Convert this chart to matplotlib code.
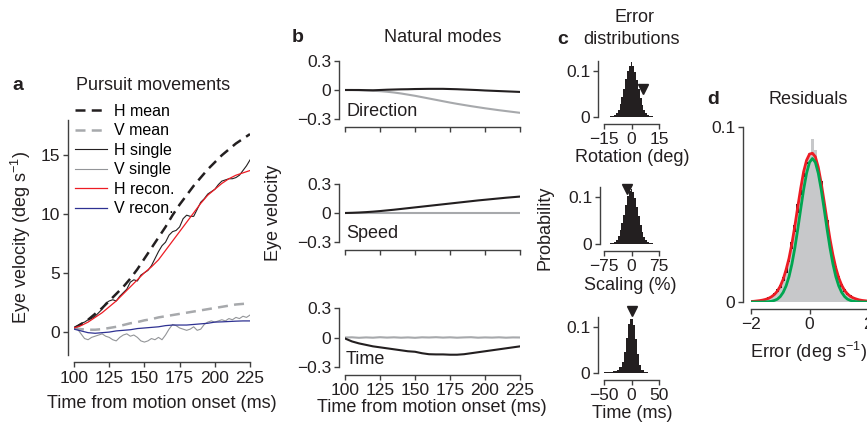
import matplotlib
matplotlib.use("Agg")
import matplotlib.pyplot as plt
import numpy as np

plt.rcParams["font.family"] = ["Liberation Sans", "DejaVu Sans"]
plt.rcParams["mathtext.fontset"] = "custom"
plt.rcParams["mathtext.rm"] = "Liberation Sans"
plt.rcParams["mathtext.it"] = "Liberation Sans:italic"

# ---- data -------------------------------------------------------------
# panel a: pursuit movements (deg/s), time in ms
t_coarse = np.arange(100, 226, 5)
t_fine = np.arange(100, 225.1, 2.5)

h_mean = [0.3, 0.6, 1.0, 1.5, 2.0, 2.6, 3.2, 3.8, 4.5, 5.3, 6.2, 7.1, 8.0,
          8.9, 9.9, 10.8, 11.6, 12.4, 13.1, 13.8, 14.4, 15.0, 15.5, 16.0, 16.4, 16.8]
v_mean = [0.3, 0.2, 0.15, 0.15, 0.2, 0.3, 0.4, 0.55, 0.7, 0.8, 0.95, 1.05, 1.2,
          1.3, 1.4, 1.5, 1.6, 1.7, 1.8, 1.9, 2.0, 2.1, 2.2, 2.3, 2.35, 2.4]
h_recon = [0.3, 0.5, 0.8, 1.2, 1.6, 2.1, 2.6, 3.2, 3.8, 4.4, 5.0, 5.5, 6.1,
           6.9, 7.7, 8.5, 9.3, 10.1, 10.9, 11.6, 12.1, 12.6, 13.0, 13.3, 13.5, 13.7]
v_recon = [0.2, 0.05, -0.1, -0.15, -0.1, -0.05, 0.05, 0.1, 0.15, 0.25, 0.3, 0.35, 0.4,
           0.5, 0.55, 0.55, 0.55, 0.6, 0.65, 0.7, 0.8, 0.82, 0.85, 0.88, 0.9, 0.9]
h_single = [0.3, 0.5, 0.7, 0.8, 1.0, 1.1, 1.3, 1.6, 1.9, 2.4, 2.6, 2.7, 2.6,
            3.0, 3.3, 3.6, 4.2, 4.4, 4.3, 4.8, 5.0, 5.2, 5.6, 6.2, 6.8, 7.3,
            7.6, 8.2, 8.5, 8.6, 8.9, 9.6, 9.9, 9.8, 9.8, 10.4, 11.0, 11.3, 11.7,
            11.9, 12.1, 12.5, 12.8, 12.9, 13.0, 13.0, 13.1, 13.3, 13.7, 14.1, 14.6]
v_single = [0.3, 0.2, -0.2, -0.6, -0.7, -0.5, -0.4, -0.3, -0.2, -0.4, -0.5, -0.7, -0.8,
            -0.5, -0.3, -0.2, -0.4, -0.3, -0.5, -0.8, -0.9, -0.8, -0.6, -0.7, -0.5, -0.7,
            -0.3, 0.2, 0.6, 0.5, 0.3, 0.2, 0.1, 0.2, 0.4, 0.1, 0.2, 0.6, 0.8,
            0.9, 0.8, 0.9, 1.0, 0.9, 1.1, 1.0, 1.2, 1.1, 1.3, 1.2, 1.4]

# panel b: natural modes (black = horizontal, gray = vertical)
dir_h = [0.0, 0.0, 0.0, -0.002, -0.003, 0.0, 0.003, 0.005, 0.007, 0.008, 0.01, 0.011, 0.012,
         0.012, 0.012, 0.01, 0.008, 0.005, 0.002, -0.001, -0.005, -0.008, -0.011, -0.014, -0.017, -0.02]
dir_v = [0.0, 0.0, -0.002, -0.004, -0.008, -0.012, -0.018, -0.026, -0.036, -0.048, -0.06, -0.074, -0.088,
         -0.102, -0.116, -0.13, -0.143, -0.155, -0.167, -0.178, -0.189, -0.199, -0.209, -0.218, -0.227, -0.236]
spd_h = [0.0, 0.002, 0.005, 0.009, 0.014, 0.02, 0.027, 0.034, 0.042, 0.05, 0.058, 0.066, 0.074,
         0.082, 0.09, 0.098, 0.106, 0.114, 0.122, 0.13, 0.137, 0.144, 0.151, 0.158, 0.164, 0.17]
spd_v = [0.0] * 26
tim_h = [-0.01, -0.04, -0.06, -0.075, -0.09, -0.1, -0.11, -0.12, -0.13, -0.14, -0.145, -0.16, -0.17,
         -0.172, -0.172, -0.175, -0.175, -0.17, -0.16, -0.15, -0.14, -0.13, -0.12, -0.11, -0.1, -0.09]
tim_v = [0.0, 0.002, -0.003, 0.001, -0.002, 0.003, -0.001, 0.002, -0.002, 0.001, -0.003, 0.002, 0.0,
         0.003, -0.001, 0.002, -0.002, 0.001, 0.003, -0.002, 0.001, -0.001, 0.002, -0.002, 0.001, 0.0]

# panel c: error distributions
rot_bins = np.arange(-14, 15, 1)
rot_prob = [0.0004, 0.0006, 0.0009, 0.0013, 0.0022, 0.0045, 0.0085, 0.016, 0.028, 0.044, 0.062, 0.083,
            0.101, 0.112, 0.119, 0.111, 0.099, 0.081, 0.060, 0.042, 0.026, 0.016, 0.0088, 0.0045,
            0.0022, 0.0013, 0.0008, 0.0006, 0.0004]
rot_marker = (6.5, 0.061)
scl_bins = np.arange(-70, 71, 5)
scl_prob = [0.0004, 0.0006, 0.0008, 0.0012, 0.002, 0.0042, 0.0088, 0.017, 0.029, 0.045, 0.063, 0.084,
            0.102, 0.113, 0.118, 0.112, 0.098, 0.080, 0.059, 0.041, 0.025, 0.015, 0.0085, 0.0043,
            0.0021, 0.0012, 0.0008, 0.0006, 0.0004]
scl_marker = (-13.6, 0.117)
tim_bins = np.arange(-48, 49, 4)
tim_prob = [0.0015, 0.002, 0.0025, 0.003, 0.004, 0.005, 0.007, 0.012, 0.024, 0.045, 0.077, 0.106,
            0.117, 0.104, 0.074, 0.041, 0.018, 0.007, 0.003, 0.0015, 0.001, 0.0008, 0.0006, 0.0005, 0.0004]
tim_marker = (1.8, 0.135)

# panel d: residuals
err_bins = np.round(np.arange(-2.0, 2.01, 0.1), 1)
err_black = [0.0004, 0.0005, 0.0007, 0.0010, 0.0014, 0.0020, 0.0026, 0.0036, 0.0050, 0.0072, 0.0100,
             0.0142, 0.0195, 0.0262, 0.0345, 0.0440, 0.0560, 0.0640, 0.0740, 0.0800, 0.0840,
             0.0835, 0.0820, 0.0760, 0.0690, 0.0560, 0.0470, 0.0370, 0.0280, 0.0205, 0.0150,
             0.0105, 0.0074, 0.0052, 0.0038, 0.0028, 0.0020, 0.0015, 0.0011, 0.0008, 0.0006]
err_gray = [0.0002, 0.0003, 0.0004, 0.0006, 0.0009, 0.0013, 0.0018, 0.0026, 0.0038, 0.0056, 0.0080,
            0.0118, 0.0165, 0.0228, 0.0305, 0.0400, 0.0510, 0.0610, 0.0715, 0.0790, 0.0850,
            0.0930, 0.0870, 0.0760, 0.0660, 0.0540, 0.0440, 0.0340, 0.0250, 0.0180, 0.0128,
            0.0088, 0.0060, 0.0042, 0.0030, 0.0021, 0.0015, 0.0011, 0.0008, 0.0006, 0.0004]
err_red = [0.0003, 0.0004, 0.0006, 0.0008, 0.0011, 0.0015, 0.0021, 0.0030, 0.0043, 0.0062, 0.0090,
           0.0130, 0.0185, 0.0250, 0.0335, 0.0435, 0.0545, 0.0650, 0.0745, 0.0810, 0.0845,
           0.0850, 0.0830, 0.0770, 0.0680, 0.0575, 0.0465, 0.0360, 0.0270, 0.0195, 0.0138,
           0.0096, 0.0066, 0.0046, 0.0032, 0.0023, 0.0017, 0.0012, 0.0009, 0.0007, 0.0005]
err_green = [0.0, 0.0, 0.0, 0.0, 0.0, 0.0001, 0.0002, 0.0004, 0.0009, 0.0016, 0.0031,
             0.0055, 0.0092, 0.0145, 0.0218, 0.0310, 0.0417, 0.0532, 0.0643, 0.0736, 0.0798,
             0.0820, 0.0798, 0.0736, 0.0643, 0.0532, 0.0417, 0.0310, 0.0218, 0.0145, 0.0092,
             0.0055, 0.0031, 0.0016, 0.0009, 0.0004, 0.0002, 0.0001, 0.0, 0.0, 0.0]

# ---- style ------------------------------------------------------------
BLACK = "#231f20"
GRAY = "#a7a9ac"
LGRAY = "#939598"
RED = "#ed1c24"
BLUE = "#2e3192"
GREEN = "#00a651"
HGRAY = "#c7c8ca"
AXIS = "#404040"
FS = 13
TICK_FS = 12.5

W, H = 867, 428
fig = plt.figure(figsize=(W / 100, H / 100), dpi=100)


def box(x0, y0, x1, y1):
    return fig.add_axes([x0 / W, 1 - y1 / H, (x1 - x0) / W, (y1 - y0) / H])


def label(x, y, s, **kw):
    kw.setdefault("fontsize", FS)
    kw.setdefault("ha", "center")
    kw.setdefault("va", "center")
    kw.setdefault("color", BLACK)
    fig.text(x / W, 1 - y / H, s, **kw)


def style(ax, left_off, bottom_off, labelsize=TICK_FS):
    for side in ("top", "right"):
        ax.spines[side].set_visible(False)
    ax.spines["left"].set_position(("outward", left_off * 0.72))
    ax.spines["bottom"].set_position(("outward", bottom_off * 0.72))
    for side in ("left", "bottom"):
        ax.spines[side].set_color(AXIS)
        ax.spines[side].set_linewidth(1.0)
    ax.tick_params(direction="out", length=3.6, width=1.0, color=AXIS,
                   labelsize=labelsize, labelcolor=BLACK, pad=2)
    ax.patch.set_visible(False)


# ---- a: pursuit movements --------------------------------------------
ax_a = box(74, 120, 250, 355)
ax_a.plot(t_coarse, h_mean, color=BLACK, lw=1.8, dashes=(4, 2.5), label="H mean")
ax_a.plot(t_coarse, v_mean, color=GRAY, lw=1.8, dashes=(4, 2.5), label="V mean")
ax_a.plot(t_fine, h_single, color=BLACK, lw=0.8, label="H single")
ax_a.plot(t_fine, v_single, color=LGRAY, lw=0.8, label="V single")
ax_a.plot(t_coarse, h_recon, color=RED, lw=0.9, label="H recon.")
ax_a.plot(t_coarse, v_recon, color=BLUE, lw=0.9, label="V recon.")
ax_a.set_xlim(100, 225)
ax_a.set_ylim(-2, 18)
ax_a.set_xticks([100, 125, 150, 175, 200, 225])
ax_a.set_yticks([0, 5, 10, 15])
style(ax_a, 6, 7)
ax_a.tick_params(axis="x", pad=3)
ax_a.legend(loc="upper left", bbox_to_anchor=(75 / W, 1 - 104 / H),
            bbox_transform=fig.transFigure, frameon=False, fontsize=11.5,
            handlelength=2.0, handletextpad=0.45, labelspacing=0.28,
            borderpad=0, borderaxespad=0)
label(18, 86, "a", fontweight="bold", fontsize=14)
label(153, 85, "Pursuit movements")
label(21, 237, "Eye velocity (deg s$^{-1}$)", rotation=90)
label(162, 403, "Time from motion onset (ms)")

# ---- b: natural modes --------------------------------------------------
modes = [("Direction", dir_h, dir_v, (61, 119), 111),
         ("Speed", spd_h, spd_v, (184, 242), 234),
         ("Time", tim_h, tim_v, (308, 367), 360)]
for i, (name, mh, mv, (y0, y1), ty) in enumerate(modes):
    ax = box(345, y0, 520, y1)
    ax.plot(t_coarse, mv, color=GRAY, lw=1.5)
    ax.plot(t_coarse, mh, color=BLACK, lw=1.5)
    ax.set_xlim(100, 225)
    ax.set_ylim(-0.3, 0.3)
    ax.set_xticks([100, 125, 150, 175, 200, 225])
    ax.set_yticks([-0.3, 0, 0.3])
    ax.set_yticklabels(["\u22120.3", "0", "0.3"])
    style(ax, 6, 8)
    if i < 2:
        ax.set_xticklabels([])
    label(346, ty, name, ha="left")
label(298, 38, "b", fontweight="bold", fontsize=14)
label(443, 38, "Natural modes")
label(273, 213, "Eye velocity", rotation=90)
label(432, 407, "Time from motion onset (ms)")

# ---- c: error distributions -------------------------------------------
hists = [(rot_bins, rot_prob, 1.0, rot_marker, (-15, 15), [-15, 0, 15], (61, 117), 6),
         (scl_bins, scl_prob, 5.0, scl_marker, (-75, 75), [-75, 0, 75], (187, 244), 4),
         (tim_bins, tim_prob, 4.0, tim_marker, (-50, 50), [-50, 0, 50], (317, 373), 6)]
for bins, prob, bw, mk, xl, xt, (y0, y1), loff in hists:
    ax = box(604, y0, 659, y1)
    ax.bar(bins, prob, width=bw, color=BLACK, linewidth=0)
    ax.plot([mk[0]], [mk[1]], marker="v", color=BLACK, markersize=6.5,
            linestyle="none", clip_on=False)
    ax.set_xlim(*xl)
    ax.set_ylim(0, 0.122)
    ax.set_xticks(xt)
    ax.set_xticklabels([str(v).replace("-", "\u2212") for v in xt])
    ax.set_yticks([0, 0.1])
    ax.set_yticklabels(["0", "0.1"])
    style(ax, loff, 7)
label(635, 18, "Error")
label(632, 40, "distributions")
label(563, 40, "c", fontweight="bold", fontsize=14)
label(632, 158, "Rotation (deg)")
label(630, 285, "Scaling (%)")
label(632, 414, "Time (ms)")
label(545, 228, "Probability", rotation=90)

# ---- d: residuals ------------------------------------------------------
ax_d = box(751, 127, 868, 302)
ax_d.bar(err_bins, err_black, width=0.1, color=BLACK, linewidth=0)
ax_d.bar(err_bins, err_gray, width=0.1, color=HGRAY, linewidth=0)
ax_d.plot(err_bins, err_red, color=RED, lw=2.0)
ax_d.plot(err_bins, err_green, color=GREEN, lw=2.0)
ax_d.set_xlim(-2, 2)
ax_d.set_ylim(0, 0.1)
ax_d.set_xticks([-2, 0, 2])
ax_d.set_xticklabels(["\u22122", "0", "2"])
ax_d.set_yticks([0, 0.1])
ax_d.set_yticklabels(["0", "0.1"])
style(ax_d, 8, 7)
label(713, 100, "d", fontweight="bold", fontsize=14)
label(808, 100, "Residuals")
label(808, 352, "Error (deg s$^{-1}$)")

fig.savefig("out.png", dpi=100)
